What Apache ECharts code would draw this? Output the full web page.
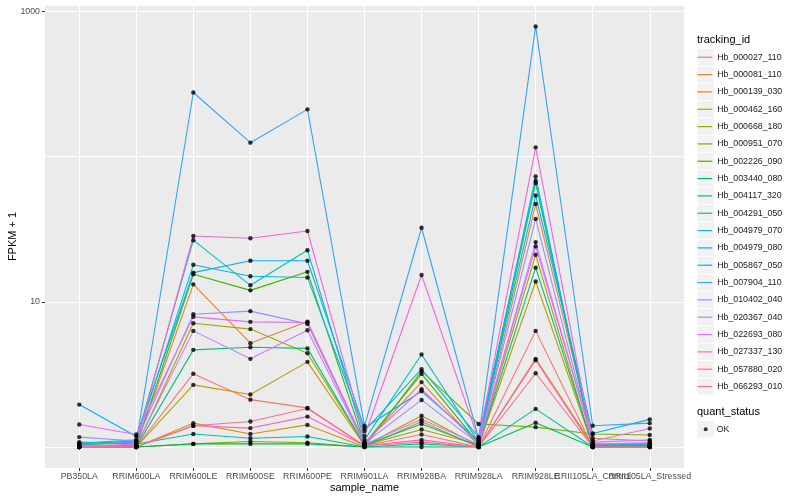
<!DOCTYPE html>
<html>
<head>
<meta charset="utf-8">
<script src="https://cdn.jsdelivr.net/npm/echarts@6/dist/echarts.min.js"></script>
<style>
html,body{margin:0;padding:0;background:#fff;}
#chart{width:800px;height:500px;}
</style>
</head>
<body>
<div id="chart"></div>
<script>
const categories = ['PB350LA','RRIM600LA','RRIM600LE','RRIM600SE','RRIM600PE','RRIM901LA','RRIM928BA','RRIM928LA','RRIM928LE','RRII105LA_Control','RRII105LA_Stressed'];

const trackingIds = ['Hb_000027_110','Hb_000081_110','Hb_000139_030','Hb_000462_160','Hb_000668_180','Hb_000951_070','Hb_002226_090','Hb_003440_080','Hb_004117_320','Hb_004291_050','Hb_004979_070','Hb_004979_080','Hb_005867_050','Hb_007904_110','Hb_010402_040','Hb_020367_040','Hb_022693_080','Hb_027337_130','Hb_057880_020','Hb_066293_010'];

const colors = ['#F8766D','#EA8331','#D89000','#C09B00','#A3A500','#7CAE00','#39B600','#00BB4E','#00BF7D','#00C1A3','#00BFC4','#00BAE0','#00B0F6','#35A2FF','#9590FF','#C77CFF','#E76BF3','#FA62DB','#FF62BC','#FF6C91'];

// FPKM + 1 per sample (same order as categories)
const Hb_000027_110 = [1.00, 1.00, 3.20, 2.12, 1.86, 1.02, 1.22, 1.00, 6.31, 1.00, 1.02];
const Hb_000081_110 = [1.00, 1.02, 13.2, 5.19, 7.31, 1.06, 2.80, 1.03, 47.2, 1.15, 1.10];
const Hb_000139_030 = [1.00, 1.00, 1.46, 1.23, 1.42, 1.00, 1.50, 1.00, 4.05, 1.03, 1.02];
const Hb_000462_160 = [1.00, 1.00, 2.68, 2.30, 3.86, 1.02, 1.64, 1.02, 13.8, 1.02, 1.00];
const Hb_000668_180 = [1.00, 1.00, 7.13, 6.49, 4.43, 1.03, 1.32, 1.04, 21.1, 1.00, 1.00];
const Hb_000951_070 = [1.00, 1.00, 1.05, 1.09, 1.07, 1.00, 3.33, 1.44, 1.37, 1.23, 1.21];
const Hb_002226_090 = [1.04, 1.02, 15.5, 12.0, 16.1, 1.05, 3.19, 1.06, 65.9, 1.02, 1.03];
const Hb_003440_080 = [1.02, 1.00, 1.05, 1.05, 1.05, 1.00, 1.00, 1.00, 1.47, 1.00, 1.00];
const Hb_004117_320 = [1.00, 1.00, 4.67, 4.87, 4.78, 1.03, 1.44, 1.02, 17.2, 1.02, 1.03];
const Hb_004291_050 = [1.08, 1.05, 1.23, 1.15, 1.18, 1.00, 1.05, 1.00, 1.83, 1.00, 1.00];
const Hb_004979_070 = [1.06, 1.12, 26.6, 13.0, 22.7, 1.12, 4.34, 1.08, 73.1, 1.03, 1.04];
const Hb_004979_080 = [1.05, 1.10, 18.0, 15.0, 14.7, 1.29, 3.44, 1.17, 68.2, 1.05, 1.05];
const Hb_005867_050 = [1.96, 1.18, 15.9, 19.2, 19.2, 1.35, 2.42, 1.10, 54.1, 1.24, 1.55];
const Hb_007904_110 = [1.04, 1.08, 277, 125, 212, 1.40, 32.4, 1.15, 790, 1.40, 1.46];
const Hb_010402_040 = [1.17, 1.10, 8.22, 8.63, 7.05, 1.06, 2.11, 1.05, 37.3, 1.05, 1.06];
const Hb_020367_040 = [1.00, 1.02, 6.31, 4.05, 6.38, 1.04, 1.55, 1.04, 25.8, 1.08, 1.12];
const Hb_022693_080 = [1.43, 1.22, 7.88, 7.28, 7.20, 1.08, 2.50, 1.06, 24.1, 1.10, 1.34];
const Hb_027337_130 = [1.00, 1.05, 28.4, 27.4, 30.8, 1.19, 15.3, 1.12, 116, 1.05, 1.07];
const Hb_057880_020 = [1.00, 1.00, 1.40, 1.35, 1.62, 1.02, 1.12, 1.00, 3.96, 1.00, 1.00];
const Hb_066293_010 = [1.00, 1.00, 1.40, 1.50, 1.84, 1.02, 1.08, 1.00, 3.22, 1.00, 1.00];

const seriesValues = [Hb_000027_110, Hb_000081_110, Hb_000139_030, Hb_000462_160, Hb_000668_180, Hb_000951_070, Hb_002226_090, Hb_003440_080, Hb_004117_320, Hb_004291_050, Hb_004979_070, Hb_004979_080, Hb_005867_050, Hb_007904_110, Hb_010402_040, Hb_020367_040, Hb_022693_080, Hb_027337_130, Hb_057880_020, Hb_066293_010];

const yTickLabels = ['10', '1000'];
const statusName = 'OK';

const FONT = '"Liberation Sans", Arial, Helvetica, sans-serif';
const idx = categories.map((c, i) => i);
const n = categories.length;

const lineSeries = trackingIds.map((id, k) => ({
  name: id,
  type: 'line',
  data: seriesValues[k].map((v, i) => [i, v]),
  showSymbol: false,
  symbol: 'none',
  lineStyle: { color: colors[k], width: 1.1 },
  itemStyle: { color: colors[k] },
  z: 2,
  silent: true
}));

const pointData = [];
seriesValues.forEach(arr => arr.forEach((v, i) => pointData.push([i, v])));

const pointSeries = {
  name: statusName,
  type: 'scatter',
  data: pointData,
  symbol: 'circle',
  symbolSize: 4.4,
  itemStyle: { color: '#000' },
  z: 5,
  silent: true
};

const keyStep = 17.33;
const legendTop = 48.6;
const okTop = 420.7;
const graphics = [];
trackingIds.forEach((id, i) => {
  graphics.push({ type: 'rect', left: 697.5, top: legendTop + i * keyStep + 0.5, shape: { width: 16.3, height: 16.3 }, style: { fill: '#F2F2F2' }, z: -1 });
});
graphics.push({ type: 'rect', left: 697.5, top: okTop + 0.5, shape: { width: 16.3, height: 16.3 }, style: { fill: '#F2F2F2' }, z: -1 });

const labelStyle = { color: '#4D4D4D', fontSize: 8.8, margin: 4, fontFamily: FONT };
const fmtCat = v => categories[Math.round(v)] || '';

// label groups: split across overlaid axes so the library doesn't drop touching labels
const labelGroups = [idx.slice(0, n - 2), [n - 2], [n - 1]];

const xAxes = labelGroups.map((grp, g) => ({
  type: 'value',
  min: -0.6,
  max: n - 1 + 0.6,
  position: 'bottom',
  offset: 0,
  splitNumber: n,
  minInterval: 1,
  maxInterval: 1,
  name: g === 0 ? 'sample_name' : '',
  nameLocation: 'middle',
  nameGap: 14,
  nameMoveOverlap: false,
  nameTextStyle: { fontSize: 11, color: '#000', fontFamily: FONT },
  axisLine: { show: false, onZero: false },
  axisTick: g === 0 ? { show: true, length: 3, lineStyle: { color: '#333', width: 1 }, customValues: idx } : { show: false },
  axisLabel: Object.assign({ customValues: grp, showMinLabel: true, showMaxLabel: true, formatter: fmtCat }, labelStyle),
  splitLine: { show: g === 0, lineStyle: { color: '#fff', width: 1 } }
}));

const chart = echarts.init(document.getElementById('chart'), null, { renderer: 'canvas' });
chart.setOption({
  animation: false,
  backgroundColor: '#fff',
  textStyle: { fontFamily: FONT },
  title: [
    { text: 'tracking_id', left: 697, top: 34, padding: 0, textStyle: { fontSize: 11, fontWeight: 'normal', color: '#000', fontFamily: FONT } },
    { text: 'quant_status', left: 697, top: 406, padding: 0, textStyle: { fontSize: 11, fontWeight: 'normal', color: '#000', fontFamily: FONT } }
  ],
  graphic: graphics,
  legend: [
    {
      data: trackingIds,
      orient: 'vertical',
      left: 697.5,
      top: legendTop,
      padding: 0,
      itemGap: 0,
      icon: 'rect',
      itemWidth: 14.7,
      itemHeight: 1.2,
      selectedMode: false,
      textStyle: { fontSize: 8.8, color: '#1a1a1a', lineHeight: keyStep, fontFamily: FONT }
    },
    {
      data: [statusName],
      orient: 'vertical',
      left: 703.7,
      top: okTop,
      padding: 0,
      itemGap: 0,
      icon: 'circle',
      itemWidth: 4,
      itemHeight: 4,
      selectedMode: false,
      textStyle: { fontSize: 8.8, color: '#1a1a1a', lineHeight: keyStep, padding: [0, 0, 0, 4], fontFamily: FONT }
    }
  ],
  grid: { left: 45, right: 116, top: 5, bottom: 32, show: true, backgroundColor: '#EBEBEB', borderWidth: 0, containLabel: false, outerBoundsMode: 'none' },
  xAxis: xAxes,
  yAxis: [
    {
      type: 'log',
      logBase: 10,
      min: 0.7166,
      max: 1110,
      position: 'left',
      offset: 0,
      name: 'FPKM + 1',
      nameLocation: 'middle',
      nameGap: 27,
      nameMoveOverlap: false,
      nameTextStyle: { fontSize: 11, color: '#000', fontFamily: FONT },
      axisLine: { show: false, onZero: false },
      axisTick: { show: false },
      axisLabel: {
        color: '#4D4D4D', fontSize: 8.8, margin: 5, fontFamily: FONT,
        formatter: v => { const s = String(Math.round(v)); return (Math.abs(v - Math.round(v)) < 1e-6 && yTickLabels.includes(s)) ? s : ''; }
      },
      splitLine: { show: true, lineStyle: { color: '#fff', width: 1 } }
    },
    {
      type: 'log',
      logBase: 10,
      min: 0.7166,
      max: 1110,
      position: 'left',
      offset: 0,
      axisLine: { show: false, onZero: false },
      axisTick: { show: true, length: 3, lineStyle: { color: '#333', width: 1 }, customValues: [10, 1000] },
      axisLabel: { show: false },
      splitLine: { show: false }
    }
  ],
  series: lineSeries.concat([pointSeries])
});
</script>
</body>
</html>
